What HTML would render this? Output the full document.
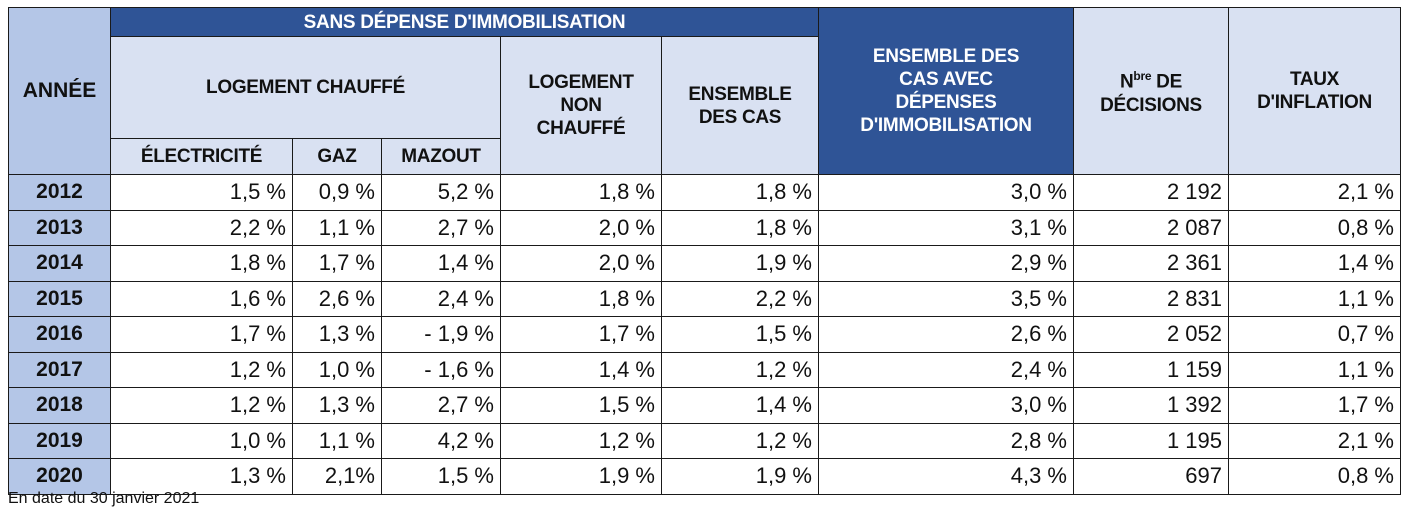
<!DOCTYPE html>
<html><head><meta charset="utf-8">
<style>
body{margin:0;width:1405px;height:499px;overflow:hidden;background:#fff;font-family:"Liberation Sans",Arial,sans-serif;position:relative}
table{position:absolute;left:8px;top:7px;border-collapse:collapse;table-layout:fixed}
td{border:1px solid #1a1a1a;padding:0;overflow:hidden;white-space:nowrap}
.h{background:#D9E1F2;font-weight:bold;font-size:19px;text-align:center;color:#111;line-height:23px;letter-spacing:-0.3px}
.d{background:#2F5496;color:#fff;font-weight:bold;font-size:19px;text-align:center;line-height:23px;letter-spacing:-0.3px}
.y{background:#B4C6E7;font-weight:bold;font-size:21px;text-align:center;color:#111}
.v{font-size:22px;text-align:right;padding-right:6px;color:#111}
tr.r td{height:34.5px}
.foot{position:absolute;left:8px;top:490px;font-size:16px;color:#111}
</style></head><body>
<table>
<colgroup><col style="width:102px"><col style="width:182px"><col style="width:89px"><col style="width:119px"><col style="width:161px"><col style="width:157px"><col style="width:255px"><col style="width:155px"><col style="width:172px"></colgroup>
<tr style="height:29px">
<td class="y" rowspan="3">ANNÉE</td>
<td class="d" colspan="5">SANS DÉPENSE D'IMMOBILISATION</td>
<td class="d" rowspan="3">ENSEMBLE DES<br>CAS AVEC<br>DÉPENSES<br>D'IMMOBILISATION</td>
<td class="h" rowspan="3">N<sup style="font-size:12px">bre</sup> DE<br>DÉCISIONS</td>
<td class="h" rowspan="3">TAUX<br>D'INFLATION</td>
</tr>
<tr style="height:102px">
<td class="h" colspan="3">LOGEMENT CHAUFFÉ</td>
<td class="h" rowspan="2">LOGEMENT<br>NON<br>CHAUFFÉ</td>
<td class="h" rowspan="2">ENSEMBLE<br>DES CAS</td>
</tr>
<tr style="height:36px">
<td class="h">ÉLECTRICITÉ</td>
<td class="h">GAZ</td>
<td class="h">MAZOUT</td>
</tr>
<tr class="r"><td class="y">2012</td><td class="v">1,5 %</td><td class="v">0,9 %</td><td class="v">5,2 %</td><td class="v">1,8 %</td><td class="v">1,8 %</td><td class="v">3,0 %</td><td class="v">2 192</td><td class="v">2,1 %</td></tr>
<tr class="r"><td class="y">2013</td><td class="v">2,2 %</td><td class="v">1,1 %</td><td class="v">2,7 %</td><td class="v">2,0 %</td><td class="v">1,8 %</td><td class="v">3,1 %</td><td class="v">2 087</td><td class="v">0,8 %</td></tr>
<tr class="r"><td class="y">2014</td><td class="v">1,8 %</td><td class="v">1,7 %</td><td class="v">1,4 %</td><td class="v">2,0 %</td><td class="v">1,9 %</td><td class="v">2,9 %</td><td class="v">2 361</td><td class="v">1,4 %</td></tr>
<tr class="r"><td class="y">2015</td><td class="v">1,6 %</td><td class="v">2,6 %</td><td class="v">2,4 %</td><td class="v">1,8 %</td><td class="v">2,2 %</td><td class="v">3,5 %</td><td class="v">2 831</td><td class="v">1,1 %</td></tr>
<tr class="r"><td class="y">2016</td><td class="v">1,7 %</td><td class="v">1,3 %</td><td class="v">- 1,9 %</td><td class="v">1,7 %</td><td class="v">1,5 %</td><td class="v">2,6 %</td><td class="v">2 052</td><td class="v">0,7 %</td></tr>
<tr class="r"><td class="y">2017</td><td class="v">1,2 %</td><td class="v">1,0 %</td><td class="v">- 1,6 %</td><td class="v">1,4 %</td><td class="v">1,2 %</td><td class="v">2,4 %</td><td class="v">1 159</td><td class="v">1,1 %</td></tr>
<tr class="r"><td class="y">2018</td><td class="v">1,2 %</td><td class="v">1,3 %</td><td class="v">2,7 %</td><td class="v">1,5 %</td><td class="v">1,4 %</td><td class="v">3,0 %</td><td class="v">1 392</td><td class="v">1,7 %</td></tr>
<tr class="r"><td class="y">2019</td><td class="v">1,0 %</td><td class="v">1,1 %</td><td class="v">4,2 %</td><td class="v">1,2 %</td><td class="v">1,2 %</td><td class="v">2,8 %</td><td class="v">1 195</td><td class="v">2,1 %</td></tr>
<tr class="r"><td class="y">2020</td><td class="v">1,3 %</td><td class="v">2,1%</td><td class="v">1,5 %</td><td class="v">1,9 %</td><td class="v">1,9 %</td><td class="v">4,3 %</td><td class="v">697</td><td class="v">0,8 %</td></tr>
</table>
<div class="foot">En date du 30 janvier 2021</div>
</body></html>
